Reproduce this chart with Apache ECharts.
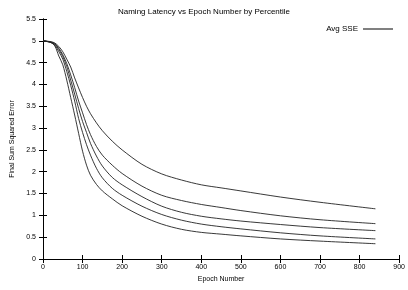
<!DOCTYPE html>
<html>
<head>
<meta charset="utf-8">
<script src="https://cdn.jsdelivr.net/npm/echarts@6/dist/echarts.min.js"></script>
<style>
  html, body { margin: 0; padding: 0; background: #fff; }
  #chart { width: 408px; height: 290px; }
</style>
</head>
<body>
<div id="chart"></div>
<script>
const epochs = [0, 20, 30, 40, 50, 60, 70, 80, 90, 100, 110, 120, 135, 150, 175, 200, 250, 300, 350, 400, 450, 500, 600, 700, 840]

// five percentile curves, top (slowest) to bottom (fastest)
const curve1 = [5.0, 4.98, 4.95, 4.87, 4.75, 4.58, 4.4, 4.15, 3.92, 3.7, 3.5, 3.33, 3.12, 2.94, 2.7, 2.5, 2.17, 1.95, 1.81, 1.7, 1.63, 1.56, 1.42, 1.3, 1.15]
const curve2 = [5.0, 4.97, 4.93, 4.83, 4.68, 4.48, 4.22, 3.93, 3.62, 3.35, 3.08, 2.85, 2.58, 2.38, 2.15, 1.96, 1.67, 1.46, 1.34, 1.25, 1.18, 1.11, 0.99, 0.9, 0.81]
const curve3 = [5.0, 4.97, 4.92, 4.8, 4.64, 4.41, 4.1, 3.78, 3.45, 3.15, 2.9, 2.65, 2.36, 2.13, 1.87, 1.7, 1.43, 1.21, 1.07, 0.98, 0.92, 0.87, 0.79, 0.72, 0.65]
const curve4 = [5.0, 4.96, 4.9, 4.75, 4.58, 4.3, 3.98, 3.62, 3.22, 2.9, 2.62, 2.38, 2.08, 1.86, 1.62, 1.46, 1.21, 1.02, 0.89, 0.8, 0.74, 0.69, 0.6, 0.53, 0.46]
const curve5 = [5.0, 4.96, 4.88, 4.65, 4.45, 4.1, 3.7, 3.3, 2.88, 2.47, 2.15, 1.92, 1.71, 1.56, 1.38, 1.22, 0.98, 0.8, 0.68, 0.61, 0.57, 0.53, 0.46, 0.41, 0.35]

const curves = [curve1, curve2, curve3, curve4, curve5]

const font = 'Liberation Sans'
const chart = echarts.init(document.getElementById('chart'), null, { renderer: 'canvas' })

const tickStyle = { color: '#000', fontSize: 7, fontFamily: font }
const lineStyle = { color: '#000', width: 1 }

chart.setOption({
  animation: false,
  backgroundColor: '#fff',
  title: {
    text: 'Naming Latency vs Epoch Number by Percentile',
    left: 'center',
    top: 3,
    textStyle: { fontSize: 8, fontWeight: 'normal', color: '#000', fontFamily: font },
  },
  legend: {
    data: ['Avg SSE'],
    right: 10,
    top: 20,
    align: 'right',
    icon: 'rect',
    itemWidth: 30,
    itemHeight: 1,
    itemGap: 4,
    textStyle: { fontSize: 8, color: '#000', fontFamily: font },
  },
  grid: {
    left: 43,
    right: 6,
    top: 19,
    bottom: 31,
  },
  xAxis: [
    {
      type: 'value',
      min: 0,
      max: 900,
      interval: 100,
      name: 'Epoch Number',
      nameLocation: 'middle',
      nameGap: 15,
      nameTextStyle: { fontSize: 7, color: '#000', fontFamily: font },
      axisLine: { lineStyle: lineStyle },
      axisTick: { inside: true, length: 4, lineStyle: lineStyle },
      axisLabel: Object.assign({ margin: 5 }, tickStyle),
      splitLine: { show: false },
    },
    {
      type: 'value',
      position: 'top',
      min: 0,
      max: 900,
      interval: 100,
      axisLine: { lineStyle: lineStyle },
      axisTick: { inside: true, length: 4, lineStyle: lineStyle },
      axisLabel: { show: false },
      splitLine: { show: false },
    },
  ],
  yAxis: [
    {
      type: 'value',
      min: 0,
      max: 5.5,
      interval: 0.5,
      name: 'Final Sum Squared Error',
      nameLocation: 'middle',
      nameGap: 23,
      nameTextStyle: { fontSize: 7, color: '#000', fontFamily: font },
      axisLine: { show: true, lineStyle: lineStyle },
      axisTick: { show: true, inside: true, length: 4, lineStyle: lineStyle },
      axisLabel: Object.assign({ margin: 7 }, tickStyle),
      splitLine: { show: false },
    },
    {
      type: 'value',
      position: 'right',
      min: 0,
      max: 5.5,
      interval: 0.5,
      axisLine: { show: true, lineStyle: lineStyle },
      axisTick: { show: true, inside: true, length: 4, lineStyle: lineStyle },
      axisLabel: { show: false },
      splitLine: { show: false },
    },
  ],
  series: curves.map((vals) => ({
    name: 'Avg SSE',
    type: 'line',
    smooth: 0.3,
    showSymbol: false,
    symbol: 'none',
    lineStyle: { color: '#222', width: 0.9 },
    itemStyle: { color: '#000' },
    data: epochs.map((e, i) => [e, vals[i]]),
  })),
})
</script>
</body>
</html>
